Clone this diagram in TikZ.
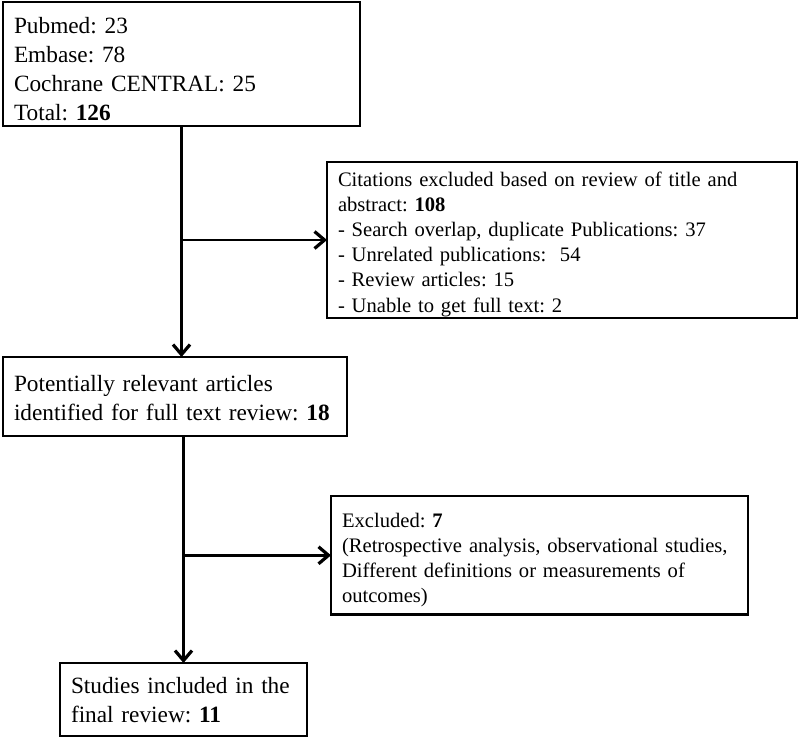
\documentclass[tikz,border=0pt]{standalone}
\usepackage{fontspec}
\setmainfont{Liberation Serif}
\usetikzlibrary{arrows.meta}

\begin{document}
\frenchspacing
\begin{tikzpicture}[x=1pt,y=-1pt,
    flowbox/.style={draw, rectangle, line width=2.6pt, anchor=north west, align=left,
        inner xsep=11pt, inner ysep=0pt, outer sep=0pt},
    bigtext/.style={font=\fontsize{23.3}{29}\selectfont},
    smalltext/.style={font=\fontsize{20.6}{25.2}\selectfont},
    flowarrow/.style={-{Straight Barb[length=10pt,width=17pt,line width=3.2pt]}, line width=2.6pt}]
            \useasboundingbox (0,0) rectangle (800,739);

            \node[flowbox, bigtext, text width=335pt, text height=31pt, text depth=93pt] (search) at (3,2)
                {Pubmed: 23\\Embase: 78\\Cochrane CENTRAL: 25\\Total: \textbf{126}};
            \node[flowbox, smalltext, text width=448pt, text height=24pt, text depth=132pt] (screened) at (327,162)
                {Citations excluded based on review of title and\\abstract: \textbf{108}\\- Search overlap, duplicate Publications: 37\\- Unrelated publications:\ \ 54\\- Review articles: 15\\- Unable to get full text: 2};
            \node[flowbox, bigtext, text width=322pt, text height=34pt, text depth=45pt] (fulltext) at (3,357)
                {Potentially relevant articles\\identified for full text review: \textbf{18}};
            \node[flowbox, smalltext, text width=395pt, text height=31pt, text depth=87.6pt] (excluded) at (331,496)
                {Excluded: \textbf{7}\\(Retrospective analysis, observational studies,\\Different definitions or measurements of\\outcomes)};
            \node[flowbox, bigtext, text width=225pt, text height=30pt, text depth=43pt] (included) at (60,663)
                {Studies included in the\\final review: \textbf{11}};

            % junctions on the main line
            \coordinate (split1) at (search.south |- screened.west);
            \coordinate (split2) at (included.north |- excluded.west);

            \draw[flowarrow] (search.south) -- (search.south |- fulltext.north);
            \draw[flowarrow] (split1) -- (screened.west);
            \draw[flowarrow] (included.north |- fulltext.south) -- (included.north);
            \draw[flowarrow] (split2) -- (excluded.west);
        \end{tikzpicture}
\end{document}
